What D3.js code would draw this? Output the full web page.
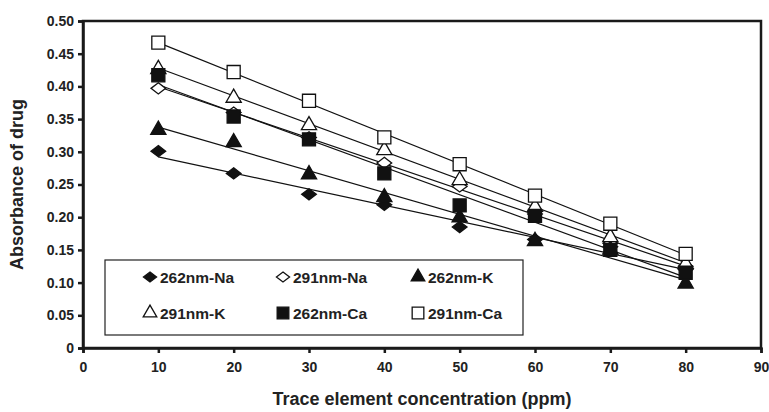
<!DOCTYPE html>
<html>
<head>
<meta charset="utf-8">
<script src="https://cdn.jsdelivr.net/npm/d3@7"></script>
<style>
  body { margin: 0; background: #fff; }
  text { font-family: "Liberation Sans", Arial, sans-serif; font-weight: bold; fill: #222; }
</style>
</head>
<body>
<svg id="chart" width="769" height="412"></svg>
<script>
// concentrations (ppm)
var conc = [10, 20, 30, 40, 50, 60, 70, 80];
// absorbance per series
var na262 = [0.301, 0.267, 0.235, 0.219, 0.185, 0.166, 0.155, 0.120];
var na291 = [0.397, 0.360, 0.322, 0.283, 0.247, 0.205, 0.160, 0.125];
var k262  = [0.335, 0.316, 0.267, 0.232, 0.201, 0.165, 0.152, 0.100];
var k291  = [0.428, 0.384, 0.342, 0.304, 0.258, 0.217, 0.171, 0.130];
var ca262 = [0.417, 0.354, 0.319, 0.267, 0.218, 0.202, 0.150, 0.115];
var ca291 = [0.467, 0.422, 0.378, 0.322, 0.281, 0.233, 0.190, 0.144];
var seriesNames = ["262nm-Na", "291nm-Na", "262nm-K", "291nm-K", "262nm-Ca", "291nm-Ca"];
var xTicks = [0, 10, 20, 30, 40, 50, 60, 70, 80, 90];
var yTicks = [0, 0.05, 0.10, 0.15, 0.20, 0.25, 0.30, 0.35, 0.40, 0.45, 0.50];

// flat diamond like the excel marker (wider than tall)
var flatDiamond = {
  draw: function(ctx, size) {
    var w = Math.sqrt(size) * 0.58, h = w * 0.76;
    ctx.moveTo(0, -h); ctx.lineTo(w, 0); ctx.lineTo(0, h); ctx.lineTo(-w, 0); ctx.closePath();
  }
};

var series = [
  { name: seriesNames[0], values: na262, shape: flatDiamond, fill: "#111" },
  { name: seriesNames[1], values: na291, shape: flatDiamond, fill: "#fff" },
  { name: seriesNames[2], values: k262,  shape: d3.symbolTriangle, fill: "#111" },
  { name: seriesNames[3], values: k291,  shape: d3.symbolTriangle, fill: "#fff" },
  { name: seriesNames[4], values: ca262, shape: d3.symbolSquare, fill: "#111" },
  { name: seriesNames[5], values: ca291, shape: d3.symbolSquare, fill: "#fff" }
];

var svg = d3.select("#chart");
var margin = { left: 83, top: 21, right: 8, bottom: 64 };
var W = 769, H = 412;

var x = d3.scaleLinear().domain([0, 90]).range([margin.left, W - margin.right]);
var y = d3.scaleLinear().domain([0, 0.5]).range([H - margin.bottom, margin.top]);

// frame
svg.append("rect")
  .attr("x", x(0)).attr("y", y(0.5))
  .attr("width", x(90) - x(0)).attr("height", y(0) - y(0.5))
  .attr("fill", "none").attr("stroke", "#1a1a1a").attr("stroke-width", 2.5);

// y axis
var yAxis = svg.append("g")
  .attr("transform", "translate(" + x(0) + ",0)")
  .call(d3.axisLeft(y).tickValues(yTicks).tickSize(5).tickPadding(4)
    .tickFormat(function(d) { return d === 0 ? "0" : d3.format(".2f")(d); }));
yAxis.select(".domain").attr("stroke-width", 2.5).attr("stroke", "#1a1a1a");
yAxis.selectAll(".tick line").attr("stroke-width", 2.5).attr("stroke", "#1a1a1a");
yAxis.selectAll("text").style("font-size", "14px").attr("fill", "#222");

// x axis
var xAxis = svg.append("g")
  .attr("transform", "translate(0," + y(0) + ")")
  .call(d3.axisBottom(x).tickValues(xTicks).tickSize(5).tickPadding(9));
xAxis.select(".domain").attr("stroke-width", 2.5).attr("stroke", "#1a1a1a");
xAxis.selectAll(".tick line").attr("stroke-width", 2.5).attr("stroke", "#1a1a1a");
xAxis.selectAll("text").style("font-size", "14px").attr("fill", "#222");

// titles
svg.append("text")
  .attr("transform", "translate(23," + ((y(0) + y(0.5)) / 2) + ") rotate(-90)")
  .attr("text-anchor", "middle")
  .style("font-size", "18px")
  .text("Absorbance of drug");
svg.append("text")
  .attr("x", (x(0) + x(90)) / 2).attr("y", 405)
  .attr("text-anchor", "middle")
  .style("font-size", "18px")
  .text("Trace element concentration (ppm)");

// linear trend lines (least squares)
function fit(vals) {
  var mx = d3.mean(conc), my = d3.mean(vals);
  var sxy = d3.sum(conc, function(c, i) { return (c - mx) * (vals[i] - my); });
  var sxx = d3.sum(conc, function(c) { return (c - mx) * (c - mx); });
  var b = sxy / sxx;
  return function(c) { return my + b * (c - mx); };
}
var line = d3.line().x(function(d) { return x(d[0]); }).y(function(d) { return y(d[1]); });
series.forEach(function(s) {
  var f = fit(s.values);
  svg.append("path")
    .attr("d", line([[10, f(10)], [80, f(80)]]))
    .attr("fill", "none").attr("stroke", "#111").attr("stroke-width", 1.2);
});

// markers
function symSize(shape) {
  return shape === d3.symbolSquare ? 170 : shape === d3.symbolTriangle ? 100 : 160;
}
series.forEach(function(s) {
  svg.append("g").selectAll("path")
    .data(s.values)
    .enter().append("path")
    .attr("transform", function(d, i) {
      var dy = s.shape === d3.symbolTriangle ? 1 : 0;
      return "translate(" + x(conc[i]) + "," + (y(d) + dy) + ")";
    })
    .attr("d", d3.symbol().type(s.shape).size(symSize(s.shape)))
    .attr("fill", s.fill).attr("stroke", "#111").attr("stroke-width", 1.3);
});

// legend
var lg = svg.append("g");
lg.append("rect")
  .attr("x", 105).attr("y", 260).attr("width", 418).attr("height", 75)
  .attr("fill", "#fff").attr("stroke", "#222").attr("stroke-width", 1.2);
var colX = [150, 283, 418], rowY = [277, 313];
series.forEach(function(s, i) {
  var cx = colX[i % 3], cy = rowY[Math.floor(i / 3)];
  lg.append("path")
    .attr("transform", "translate(" + cx + "," + cy + ")")
    .attr("d", d3.symbol().type(s.shape).size(symSize(s.shape) * 0.8))
    .attr("fill", s.fill).attr("stroke", "#111").attr("stroke-width", 1.3);
  lg.append("text")
    .attr("x", cx + 10).attr("y", cy + 5.5)
    .style("font-size", "15.5px")
    .text(s.name);
});
</script>
</body>
</html>
